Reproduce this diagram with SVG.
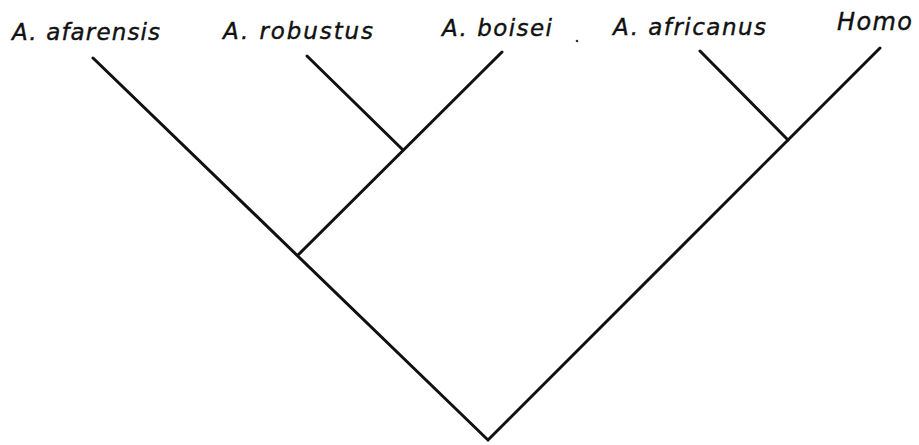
<svg xmlns="http://www.w3.org/2000/svg" width="919" height="445" viewBox="0 0 919 445">
<style>
.lbl{font-family:"DejaVu Sans","Liberation Sans",Arial,sans-serif;font-style:italic;font-size:23px;fill:#111;stroke:#111;stroke-width:0.4}
.edge{stroke:#111;stroke-width:3;fill:none;stroke-linecap:round;stroke-linejoin:miter}
</style>
<rect width="919" height="445" fill="#fff"/>
<g id="connectors">
<polyline class="edge" points="93,58 488,440 880,48"/>
<line class="edge" x1="298" y1="255" x2="502" y2="52"/>
<line class="edge" x1="307" y1="56" x2="403" y2="150"/>
<line class="edge" x1="700" y1="51" x2="788" y2="140"/>
</g>
<g id="n-afarensis"><text class="lbl" x="12" y="40" textLength="148" lengthAdjust="spacing">A. afarensis</text></g>
<g id="n-robustus"><text class="lbl" x="223" y="39" textLength="150" lengthAdjust="spacing">A. robustus</text></g>
<g id="n-boisei"><text class="lbl" x="442" y="36" textLength="110" lengthAdjust="spacing">A. boisei</text></g>
<circle cx="577" cy="41" r="1.3" fill="#333"/>
<g id="n-africanus"><text class="lbl" x="613" y="35" textLength="153" lengthAdjust="spacing">A. africanus</text></g>
<g id="n-homo"><text class="lbl" x="837" y="30" textLength="75" lengthAdjust="spacing" style="font-size:24px">Homo</text></g>
</svg>
